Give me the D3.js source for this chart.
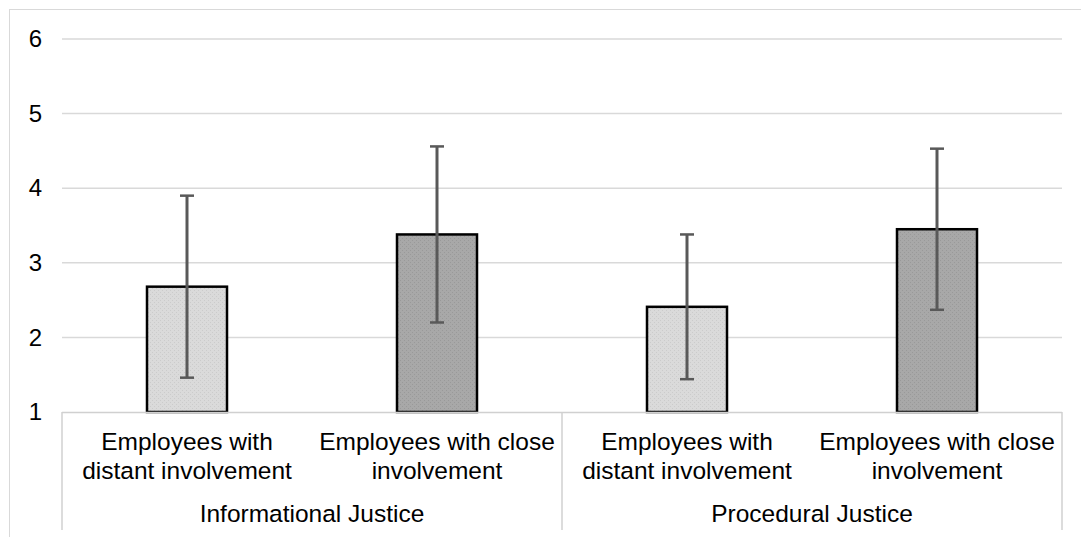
<!DOCTYPE html>
<html>
<head>
<meta charset="utf-8">
<script src="https://cdn.jsdelivr.net/npm/d3@7"></script>
<style>
  html, body { margin: 0; padding: 0; background: #fff; }
  svg { display: block; font-family: "Liberation Sans", Arial, sans-serif; }
</style>
</head>
<body>
<svg id="chart" width="1081" height="537"></svg>
<script>
// ---- data ----
const groups = ["Informational Justice", "Procedural Justice"];
const subcategories = ["Employees with distant involvement", "Employees with close involvement"];
const subLabelLines = [["Employees with", "distant involvement"], ["Employees with close", "involvement"]];
const means = [2.68, 3.38, 2.41, 3.45];
const errors = [1.22, 1.18, 0.97, 1.08];
const yTicks = [1, 2, 3, 4, 5, 6];

(function () {
const rows = [];
groups.forEach((g, gi) => subcategories.forEach((s, si) => {
  const i = gi * subcategories.length + si;
  rows.push({ id: g + "|" + s, group: g, sub: si, mean: means[i], err: errors[i] });
}));

const svg = d3.select("#chart");
const pLeft = 62, pRight = 1062, pTop = 39, pBottom = 412;

// defs: dotted fills
const defs = svg.append("defs");
function pat(id, base, dot) {
  const p = defs.append("pattern").attr("id", id).attr("patternUnits", "userSpaceOnUse")
    .attr("width", 4).attr("height", 4);
  p.append("rect").attr("width", 4).attr("height", 4).attr("fill", base);
  p.append("rect").attr("x", 0).attr("y", 0).attr("width", 1).attr("height", 1).attr("fill", dot);
  p.append("rect").attr("x", 2).attr("y", 2).attr("width", 1).attr("height", 1).attr("fill", dot);
}
pat("pLight", "#dadada", "#cbcbcb");
pat("pDark", "#a8a8a8", "#999999");
const fills = ["url(#pLight)", "url(#pDark)"];

// outer frame
svg.append("rect").attr("x", 9.5).attr("y", 9.5).attr("width", 1100).attr("height", 600)
  .attr("fill", "none").attr("stroke", "#d9d9d9").attr("stroke-width", 1);

const x = d3.scaleBand().domain(rows.map(d => d.id)).range([pLeft, pRight])
  .paddingInner(0.68).paddingOuter(0.34);
const y = d3.scaleLinear().domain([1, 6]).range([pBottom, pTop]);

// gridlines
svg.append("g").selectAll("line").data(yTicks.filter(t => t > 1)).join("line")
  .attr("x1", pLeft).attr("x2", pRight)
  .attr("y1", d => y(d)).attr("y2", d => y(d))
  .attr("stroke", "#d9d9d9").attr("stroke-width", 1.5);

// y axis labels
const yAxis = d3.axisLeft(y).tickValues(yTicks).tickSize(0).tickPadding(0).tickFormat(d3.format("d"));
const yg = svg.append("g").attr("transform", `translate(${pLeft - 20},0)`).call(yAxis);
yg.select(".domain").remove();
yg.selectAll("text").attr("font-size", 24).attr("fill", "#000").attr("font-family", "Liberation Sans, Arial, sans-serif");

// bars
svg.append("g").selectAll("rect").data(rows).join("rect")
  .attr("x", d => x(d.id)).attr("width", x.bandwidth())
  .attr("y", d => y(d.mean)).attr("height", d => y(1) - y(d.mean))
  .attr("fill", d => fills[d.sub]).attr("stroke", "#000").attr("stroke-width", 2.5);

// error bars
const eb = svg.append("g").attr("stroke", "#595959").attr("stroke-width", 3);
rows.forEach(d => {
  const cx = x(d.id) + x.bandwidth() / 2;
  eb.append("line").attr("x1", cx).attr("x2", cx).attr("y1", y(d.mean + d.err)).attr("y2", y(d.mean - d.err));
  [d.mean + d.err, d.mean - d.err].forEach(v => {
    eb.append("line").attr("x1", cx - 7).attr("x2", cx + 7).attr("y1", y(v)).attr("y2", y(v)).attr("stroke-width", 2.5);
  });
});

// category axis
const ax = svg.append("g").attr("stroke", "#d0d0d0").attr("stroke-width", 1.5);
ax.append("line").attr("x1", pLeft).attr("x2", pRight).attr("y1", pBottom + 0.5).attr("y2", pBottom + 0.5);
const groupStep = (pRight - pLeft) / groups.length;
d3.range(groups.length + 1).forEach(i => {
  const gx = pLeft + i * groupStep;
  ax.append("line").attr("x1", gx).attr("x2", gx).attr("y1", pBottom).attr("y2", 530);
});

// sub labels
const lab = svg.append("g").attr("font-size", 24.5).attr("fill", "#000").attr("text-anchor", "middle");
rows.forEach(d => {
  const cx = x(d.id) + x.bandwidth() / 2;
  const t = lab.append("text").attr("x", cx).attr("y", 450);
  subLabelLines[d.sub].forEach((ln, li) => {
    t.append("tspan").attr("x", cx).attr("dy", li === 0 ? 0 : 28.5).text(ln);
  });
});
groups.forEach((g, i) => {
  lab.append("text").attr("x", pLeft + (i + 0.5) * groupStep).attr("y", 521.5).text(g);
});
})();
</script>
</body>
</html>
